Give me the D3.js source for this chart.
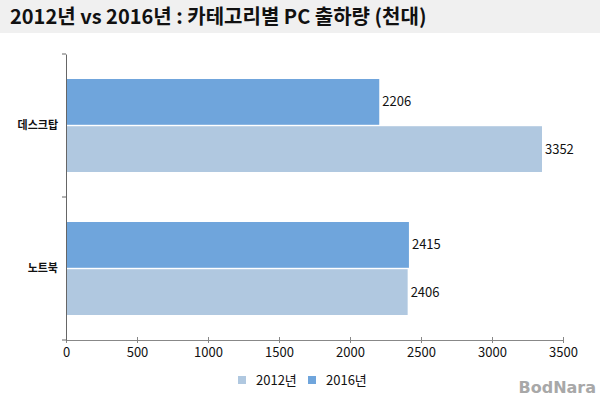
<!DOCTYPE html>
<html>
<head>
<meta charset="utf-8">
<script src="https://cdn.jsdelivr.net/npm/d3@7"></script>
<style>
  body { margin: 0; background: #fff; }
  text { font-family: "Noto Sans CJK KR", "Noto Sans", sans-serif; }
</style>
</head>
<body>
<script>
const width = 600;
const height = 399;

const categories = ["데스크탑", "노트북"];
const seriesNames = ["2016년", "2012년"];
const values2016 = [2206, 2415];
const values2012 = [3352, 2406];
const xTicks = [0, 500, 1000, 1500, 2000, 2500, 3000, 3500];
const colors = { "2016년": "#6fa5dc", "2012년": "#b0c8e0" };

const margin = { top: 54, right: 37, bottom: 59, left: 66 };

const svg = d3.select("body")
  .append("svg")
  .attr("width", width)
  .attr("height", height);

// title bar
svg.append("rect")
  .attr("x", 0).attr("y", 0)
  .attr("width", width).attr("height", 33)
  .attr("fill", "#f0f0f0");
svg.append("text")
  .attr("x", 10).attr("y", 24)
  .attr("font-size", 20)
  .attr("font-weight", 600)
  .attr("fill", "#111")
  .text("2012년 vs 2016년 : 카테고리별 PC 출하량 (천대)");

const x = d3.scaleLinear().domain([0, 3500]).range([margin.left, width - margin.right]);
const y0 = d3.scaleBand().domain(categories).range([margin.top, height - margin.bottom]).paddingInner(0).paddingOuter(0);
const y1 = d3.scaleBand().domain(seriesNames).range([0, y0.bandwidth()]).paddingOuter(0.53).paddingInner(0.03);

const rows = categories.map((c, i) => ({
  cat: c,
  vals: [
    { name: "2016년", v: values2016[i] },
    { name: "2012년", v: values2012[i] }
  ]
}));

const g = svg.selectAll("g.cat")
  .data(rows)
  .enter()
  .append("g")
  .attr("class", "cat")
  .attr("transform", d => `translate(0,${y0(d.cat)})`);

g.selectAll("rect")
  .data(d => d.vals)
  .enter()
  .append("rect")
  .attr("x", x(0))
  .attr("y", d => y1(d.name))
  .attr("width", d => x(d.v) - x(0))
  .attr("height", y1.bandwidth())
  .attr("fill", d => colors[d.name]);

g.selectAll("text.val")
  .data(d => d.vals)
  .enter()
  .append("text")
  .attr("class", "val")
  .attr("x", d => x(d.v) + 3)
  .attr("y", d => y1(d.name) + y1.bandwidth() / 2)
  .attr("dy", "0.35em")
  .attr("font-size", 13)
  .attr("fill", "#111")
  .text(d => d.v);

// x axis
const xAxis = svg.append("g")
  .attr("transform", `translate(0,${height - margin.bottom})`)
  .call(d3.axisBottom(x).tickValues(xTicks).tickSize(3).tickFormat(d3.format("d")));
xAxis.select(".domain").attr("stroke", "#888");
xAxis.selectAll(".tick line").attr("stroke", "#888").attr("y1", -3);
xAxis.selectAll("text").attr("font-size", 13).attr("fill", "#111").attr("dy", "0.85em");

// y axis
const yAxis = svg.append("g")
  .attr("transform", `translate(${margin.left},0)`)
  .call(d3.axisLeft(y0).tickSize(0).tickPadding(8));
yAxis.select(".domain").attr("stroke", "#666");
yAxis.selectAll("text").attr("font-size", 11).attr("font-weight", 600).attr("fill", "#111");
const boundaries = [margin.top, y0(categories[1]), height - margin.bottom];
yAxis.selectAll("line.sep")
  .data(boundaries)
  .enter()
  .append("line")
  .attr("x1", -4).attr("x2", 0)
  .attr("y1", d => d).attr("y2", d => d)
  .attr("stroke", "#666");

// legend
const legendItems = ["2012년", "2016년"];
const legendX = [238, 308];
const legend = svg.selectAll("g.legend")
  .data(legendItems)
  .enter()
  .append("g")
  .attr("class", "legend")
  .attr("transform", (d, i) => `translate(${legendX[i]},380)`);
legend.append("rect")
  .attr("x", 0).attr("y", -4)
  .attr("width", 8).attr("height", 8)
  .attr("fill", d => colors[d]);
legend.append("text")
  .attr("x", 18).attr("dy", "0.35em")
  .attr("font-size", 13)
  .attr("fill", "#111")
  .text(d => d);

// watermark
svg.append("text")
  .attr("x", 596).attr("y", 393)
  .attr("text-anchor", "end")
  .attr("font-size", 16)
  .attr("font-weight", "bold")
  .attr("fill", "#a8a8a8")
  .style("font-family", "'DejaVu Sans', sans-serif")
  .text("BodNara");
</script>
</body>
</html>
